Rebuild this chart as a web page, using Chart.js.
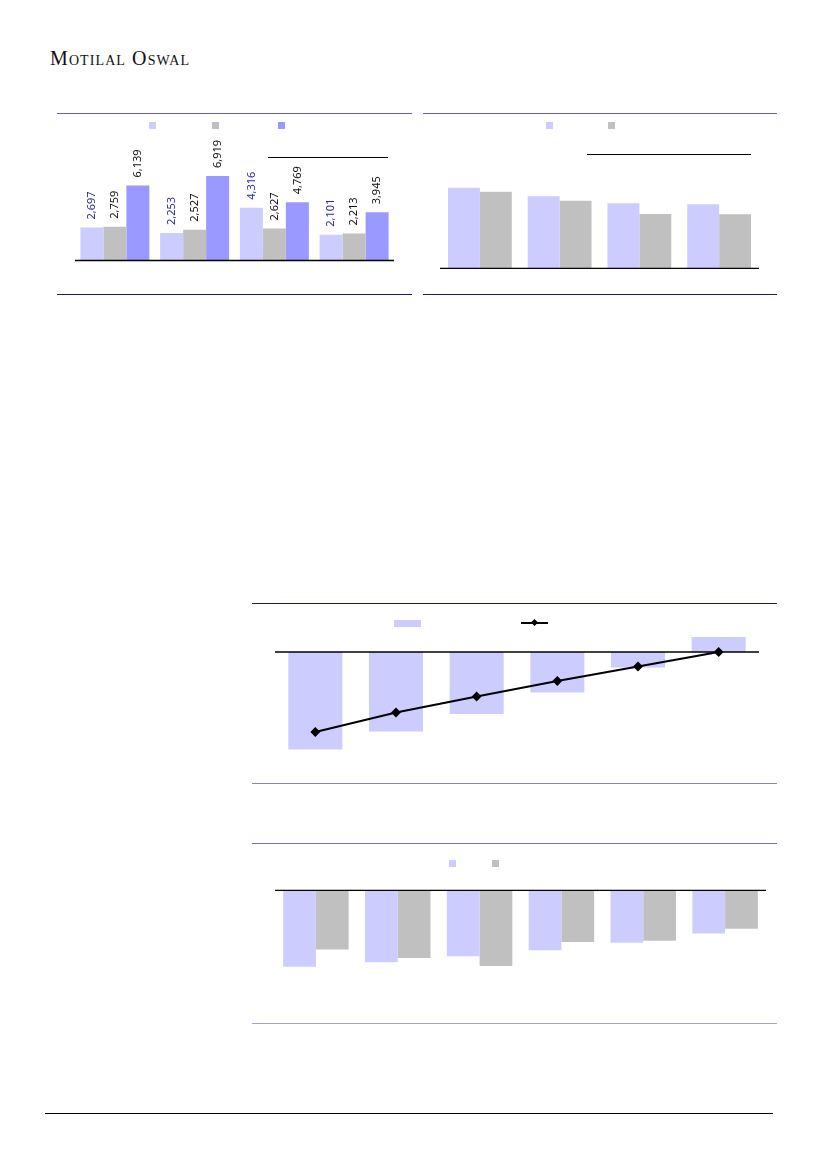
<!DOCTYPE html>
<html>
<head>
<meta charset="utf-8">
<script src="https://cdn.jsdelivr.net/npm/chart.js@4.4.1/dist/chart.umd.min.js"></script>
<style>
  body { margin: 0; background: #fff; }
  #page { position: relative; width: 827px; height: 1169px; overflow: hidden; }
  .abs { position: absolute; }
  .rule { position: absolute; height: 1px; }
  .sq { position: absolute; width: 7px; height: 7px; }
  #brand {
    position: absolute; left: 50px; top: 48px;
    font-family: "Liberation Serif", "DejaVu Serif", serif;
    font-size: 20px; line-height: 20px; font-variant: small-caps;
    letter-spacing: 1.1px; color: #111;
  }
</style>
</head>
<body>
<div id="page">
  <div id="brand">Motilal Oswal</div>

  <!-- chart 1 frame -->
  <div class="rule" style="left:57px;top:113px;width:355px;background:#6a5fb5"></div>
  <div class="rule" style="left:57px;top:294px;width:355px;background:#1c1670"></div>
  <div class="sq" style="left:149px;top:122px;background:#ccccff"></div>
  <div class="sq" style="left:212px;top:122px;background:#c0c0c0"></div>
  <div class="sq" style="left:278px;top:122px;background:#9999ff"></div>
  <div class="rule" style="left:268px;top:157px;width:120px;background:#000"></div>
  <canvas id="c1" class="abs" width="319" height="145" style="left:75px;top:130px"></canvas>

  <!-- chart 2 frame -->
  <div class="rule" style="left:423px;top:113px;width:354px;background:#6a5fb5"></div>
  <div class="rule" style="left:423px;top:294px;width:354px;background:#1c1670"></div>
  <div class="sq" style="left:546px;top:122px;background:#ccccff"></div>
  <div class="sq" style="left:608px;top:122px;background:#c0c0c0"></div>
  <div class="rule" style="left:587px;top:154px;width:164px;background:#000"></div>
  <canvas id="c2" class="abs" width="319" height="148" style="left:440px;top:130px"></canvas>

  <!-- chart 3 frame -->
  <div class="rule" style="left:252px;top:603px;width:525px;background:#1c1670"></div>
  <div class="rule" style="left:252px;top:783px;width:525px;background:#8a80c0"></div>
  <div class="abs" style="left:394px;top:620px;width:27px;height:7px;background:#ccccff"></div>
  <div class="abs" style="left:521px;top:622px;width:27px;height:2px;background:#000"></div>
  <div class="abs" style="left:532px;top:620px;width:5px;height:5px;background:#000;transform:rotate(45deg)"></div>
  <canvas id="c3" class="abs" width="484" height="152" style="left:275px;top:626px"></canvas>

  <!-- chart 4 frame -->
  <div class="rule" style="left:252px;top:843px;width:525px;background:#7a6fb8"></div>
  <div class="rule" style="left:252px;top:1023px;width:525px;background:#a9a2d2"></div>
  <div class="sq" style="left:449px;top:860px;background:#ccccff"></div>
  <div class="sq" style="left:492px;top:860px;background:#c0c0c0"></div>
  <canvas id="c4" class="abs" width="491" height="140" style="left:275px;top:876px"></canvas>

  <div class="rule" style="left:45px;top:1113px;width:728px;background:#000"></div>
</div>

<script>
// chart 1
const cats1 = ["A", "B", "C", "D"];
const s1a = [2697, 2253, 4316, 2101];
const s1b = [2759, 2527, 2627, 2213];
const s1c = [6139, 6919, 4769, 3945];

// chart 2
const cats2 = ["A", "B", "C", "D"];
const s2a = [24.7, 22.1, 20.0, 19.7];
const s2b = [23.5, 20.7, 16.7, 16.6];

// chart 3
const cats3 = ["1", "2", "3", "4", "5", "6"];
const bars3 = [-19.5, -15.9, -12.4, -8.1, -3.1, 3.0];
const line3 = [-16.0, -12.1, -8.9, -5.8, -2.9, 0.0];

// chart 4
const cats4 = ["1", "2", "3", "4", "5", "6"];
const s4a = [-19.1, -18.0, -16.5, -15.0, -13.1, -10.8];
const s4b = [-14.8, -16.9, -18.9, -12.9, -12.6, -9.6];

const LAV = "#ccccff", GRAY = "#c0c0c0", PURP = "#9999ff";

Chart.defaults.animation = false;
Chart.defaults.responsive = false;
Chart.defaults.plugins.legend.display = false;
Chart.defaults.plugins.tooltip.enabled = false;

// zero axis line across the plot
const zeroLine = {
    id: "zeroLine",
    afterDatasetsDraw(chart) {
        const { ctx, chartArea } = chart;
        const y = chart.scales.y.getPixelForValue(0);
        ctx.save();
        ctx.strokeStyle = "#000";
        ctx.lineWidth = 1.3;
        ctx.beginPath();
        ctx.moveTo(chartArea.left, y);
        ctx.lineTo(chartArea.right, y);
        ctx.stroke();
        ctx.restore();
    }
};

// rotated value labels above bars (chart 1)
const valueLabels = {
    id: "valueLabels",
    afterDatasetsDraw(chart) {
        const ctx = chart.ctx;
        chart.data.datasets.forEach((ds, i) => {
            const meta = chart.getDatasetMeta(i);
            meta.data.forEach((bar, j) => {
                ctx.save();
                ctx.translate(bar.x, bar.y - 8);
                ctx.rotate(-Math.PI / 2);
                ctx.font = "11px 'Noto Sans'";
                ctx.fillStyle = i === 0 ? "#2a2aa8" : "#111";
                ctx.textAlign = "left";
                ctx.textBaseline = "middle";
                ctx.fillText(ds.data[j].toLocaleString("en-US"), 0, 0);
                ctx.restore();
            });
        });
    }
};

function hiddenScales(min, max) {
    return {
        x: { display: false },
        y: { display: false, min: min, max: max }
    };
}

new Chart(document.getElementById("c1"), {
    type: "bar",
    data: {
        labels: cats1,
        datasets: [
            { data: s1a, backgroundColor: LAV },
            { data: s1b, backgroundColor: GRAY },
            { data: s1c, backgroundColor: PURP }
        ]
    },
    options: {
        layout: { autoPadding: false, padding: { top: 8.5, bottom: 14.5, left: 0, right: 0 } },
        datasets: { bar: { categoryPercentage: 0.865, barPercentage: 1 } },
        scales: hiddenScales(0, 10000)
    },
    plugins: [zeroLine, valueLabels]
});

new Chart(document.getElementById("c2"), {
    type: "bar",
    data: {
        labels: cats2,
        datasets: [
            { data: s2a, backgroundColor: LAV },
            { data: s2b, backgroundColor: GRAY }
        ]
    },
    options: {
        layout: { autoPadding: false, padding: { top: 8, bottom: 9.7, left: 0, right: 0 } },
        datasets: { bar: { categoryPercentage: 0.80, barPercentage: 1 } },
        scales: hiddenScales(0, 40)
    },
    plugins: [zeroLine]
});

new Chart(document.getElementById("c3"), {
    data: {
        labels: cats3,
        datasets: [
            {
                type: "line", data: line3, borderColor: "#000", borderWidth: 2,
                pointStyle: "rectRot", pointRadius: 3.5, pointBackgroundColor: "#000",
                pointBorderColor: "#000", tension: 0, order: 0
            },
            { type: "bar", data: bars3, backgroundColor: LAV, order: 1 }
        ]
    },
    options: {
        layout: { autoPadding: false, padding: { top: 6, bottom: 6, left: 0, right: 0 } },
        datasets: { bar: { categoryPercentage: 0.67, barPercentage: 1 } },
        scales: {
            x: { display: false, offset: true },
            y: { display: false, min: -24, max: 4 }
        }
    },
    plugins: [zeroLine]
});

new Chart(document.getElementById("c4"), {
    type: "bar",
    data: {
        labels: cats4,
        datasets: [
            { data: s4a, backgroundColor: LAV },
            { data: s4b, backgroundColor: GRAY }
        ]
    },
    options: {
        layout: { autoPadding: false, padding: { top: 6.3, bottom: 5.7, left: 0, right: 0 } },
        datasets: { bar: { categoryPercentage: 0.80, barPercentage: 1 } },
        scales: hiddenScales(-30, 2)
    },
    plugins: [zeroLine]
});
</script>
</body>
</html>
